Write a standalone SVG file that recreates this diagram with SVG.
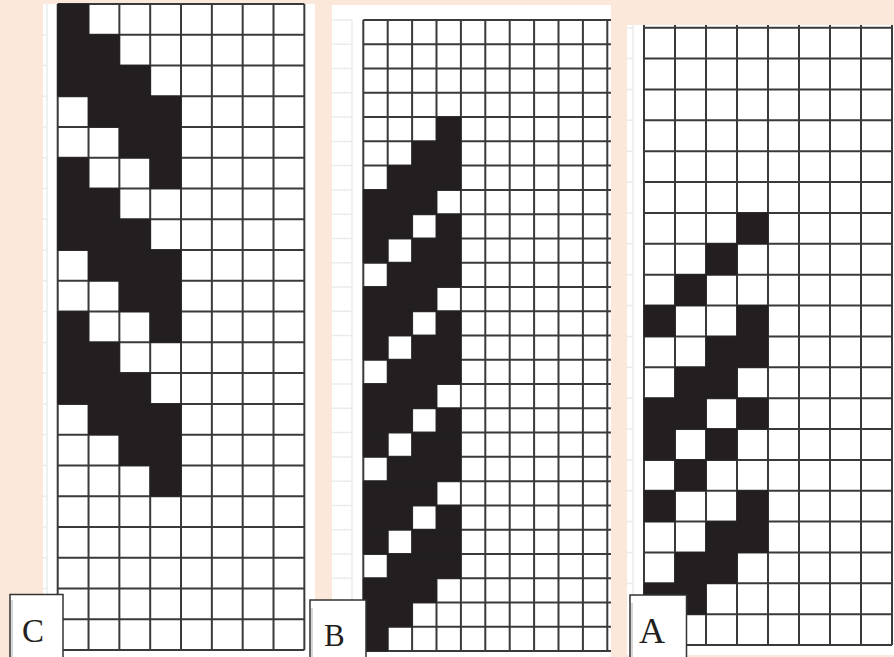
<svg xmlns="http://www.w3.org/2000/svg" width="894" height="657" viewBox="0 0 894 657">
<style>
.panel{fill:#ffffff}
.blk{fill:#231f20;stroke:#231f20;stroke-width:0.8;vector-effect:non-scaling-stroke}
.blk rect{vector-effect:non-scaling-stroke}
.grid{fill:none;stroke:#3a3a3a;stroke-width:2;vector-effect:non-scaling-stroke}
.faint{fill:none;stroke:#e9ebee;stroke-width:1.5}
.lbox{fill:#ffffff;stroke:#333333;stroke-width:1.5}
.shadow{fill:none;stroke:#c8c8c8;stroke-width:1.5}
.lbl{font-family:"Liberation Serif","Times New Roman",serif;fill:#231f20}
</style>
<rect x="0" y="0" width="894" height="657" fill="#fce8da"/>

<g id="panel-c">
<rect class="panel" x="43" y="4" width="272" height="653"/>
<path class="faint" d="M47 4V657M43 35H47M43 65.5H47M43 96.3H47M43 127H47M43 157.8H47M43 188.6H47M43 219.3H47M43 250H47M43 280.8H47M43 311.6H47M43 342.4H47M43 373H47M43 403.9H47M43 434.6H47M43 465.4H47M43 496.2H47M43 527H47M43 557.7H47M43 588.4H47"/>
<g transform="translate(57.7,4) scale(30.83,30.76)">
<path class="grid" d="M0 0V21M1 0V21M2 0V21M3 0V21M4 0V21M5 0V21M6 0V21M7 0V21M8 0V21M0 0H8M0 1H8M0 2H8M0 3H8M0 4H8M0 5H8M0 6H8M0 7H8M0 8H8M0 9H8M0 10H8M0 11H8M0 12H8M0 13H8M0 14H8M0 15H8M0 16H8M0 17H8M0 18H8M0 19H8M0 20H8M0 21H8"/>
<g class="blk">
<rect x="0" y="0" width="1" height="1"/>
<rect x="0" y="1" width="2" height="1"/>
<rect x="0" y="2" width="3" height="1"/>
<rect x="1" y="3" width="3" height="1"/>
<rect x="2" y="4" width="2" height="1"/>
<rect x="0" y="5" width="1" height="1"/><rect x="3" y="5" width="1" height="1"/>
<rect x="0" y="6" width="2" height="1"/>
<rect x="0" y="7" width="3" height="1"/>
<rect x="1" y="8" width="3" height="1"/>
<rect x="2" y="9" width="2" height="1"/>
<rect x="0" y="10" width="1" height="1"/><rect x="3" y="10" width="1" height="1"/>
<rect x="0" y="11" width="2" height="1"/>
<rect x="0" y="12" width="3" height="1"/>
<rect x="1" y="13" width="3" height="1"/>
<rect x="2" y="14" width="2" height="1"/>
<rect x="3" y="15" width="1" height="1"/>
</g>
</g>
</g>

<g id="panel-b">
<rect class="panel" x="332" y="5" width="279" height="652"/>
<path class="faint" d="M352 20V657M332 20H352M332 44.3H352M332 68.5H352M332 92.8H352M332 117H352M332 141.4H352M332 165.6H352M332 190H352M332 214.2H352M332 238.4H352M332 262.7H352M332 287H352M332 311.2H352M332 335.5H352M332 359.8H352M332 384H352M332 408.3H352M332 432.6H352M332 456.9H352M332 481.2H352M332 505.4H352M332 529.7H352M332 554H352M332 578.3H352"/>
<g transform="translate(363.3,20) scale(24.4,24.27)">
<path class="grid" d="M0 0V26M1 0V26M2 0V26M3 0V26M4 0V26M5 0V26M6 0V26M7 0V26M8 0V26M9 0V26M10 0V26M0 0H10.15M0 1H10.15M0 2H10.15M0 3H10.15M0 4H10.15M0 5H10.15M0 6H10.15M0 7H10.15M0 8H10.15M0 9H10.15M0 10H10.15M0 11H10.15M0 12H10.15M0 13H10.15M0 14H10.15M0 15H10.15M0 16H10.15M0 17H10.15M0 18H10.15M0 19H10.15M0 20H10.15M0 21H10.15M0 22H10.15M0 23H10.15M0 24H10.15M0 25H10.15M0 26H10.15"/>
<g class="blk">
<rect x="3" y="4" width="1" height="1"/>
<rect x="2" y="5" width="2" height="1"/>
<rect x="1" y="6" width="3" height="1"/>
<rect x="0" y="7" width="3" height="1"/>
<rect x="0" y="8" width="2" height="1"/><rect x="3" y="8" width="1" height="1"/>
<rect x="0" y="9" width="1" height="1"/><rect x="2" y="9" width="2" height="1"/>
<rect x="1" y="10" width="3" height="1"/>
<rect x="0" y="11" width="3" height="1"/>
<rect x="0" y="12" width="2" height="1"/><rect x="3" y="12" width="1" height="1"/>
<rect x="0" y="13" width="1" height="1"/><rect x="2" y="13" width="2" height="1"/>
<rect x="1" y="14" width="3" height="1"/>
<rect x="0" y="15" width="3" height="1"/>
<rect x="0" y="16" width="2" height="1"/><rect x="3" y="16" width="1" height="1"/>
<rect x="0" y="17" width="1" height="1"/><rect x="2" y="17" width="2" height="1"/>
<rect x="1" y="18" width="3" height="1"/>
<rect x="0" y="19" width="3" height="1"/>
<rect x="0" y="20" width="2" height="1"/><rect x="3" y="20" width="1" height="1"/>
<rect x="0" y="21" width="1" height="1"/><rect x="2" y="21" width="2" height="1"/>
<rect x="1" y="22" width="3" height="1"/>
<rect x="0" y="23" width="3" height="1"/>
<rect x="0" y="24" width="2" height="1"/>
<rect x="0" y="25" width="1" height="1"/>
</g>
</g>
</g>

<g id="panel-a">
<rect class="panel" x="627" y="25" width="267" height="630"/>
<path class="faint" d="M633 25V655M627 28H633M627 58.6H633M627 89.4H633M627 120.3H633M627 151.2H633M627 182H633M627 212.9H633M627 243.8H633M627 274.7H633M627 305.5H633M627 336.4H633M627 367.3H633M627 398.1H633M627 429H633M627 459.9H633M627 490.8H633M627 521.6H633M627 552.5H633M627 583.4H633"/>
<g transform="translate(644,27.7) scale(31,30.87)">
<path class="grid" d="M0 -0.09V20M1 -0.09V20M2 -0.09V20M3 -0.09V20M4 -0.09V20M5 -0.09V20M6 -0.09V20M7 -0.09V20M8 -0.09V20M0 0H8M0 1H8M0 2H8M0 3H8M0 4H8M0 5H8M0 6H8M0 7H8M0 8H8M0 9H8M0 10H8M0 11H8M0 12H8M0 13H8M0 14H8M0 15H8M0 16H8M0 17H8M0 18H8M0 19H8M0 20H8"/>
<g class="blk">
<rect x="3" y="6" width="1" height="1"/>
<rect x="2" y="7" width="1" height="1"/>
<rect x="1" y="8" width="1" height="1"/>
<rect x="0" y="9" width="1" height="1"/><rect x="3" y="9" width="1" height="1"/>
<rect x="2" y="10" width="2" height="1"/>
<rect x="1" y="11" width="2" height="1"/>
<rect x="0" y="12" width="2" height="1"/><rect x="3" y="12" width="1" height="1"/>
<rect x="0" y="13" width="1" height="1"/><rect x="2" y="13" width="1" height="1"/>
<rect x="1" y="14" width="1" height="1"/>
<rect x="0" y="15" width="1" height="1"/><rect x="3" y="15" width="1" height="1"/>
<rect x="2" y="16" width="2" height="1"/>
<rect x="1" y="17" width="2" height="1"/>
<rect x="0" y="18" width="2" height="1"/>
</g>
</g>
</g>

<g id="label-c">
<path class="lbox" d="M10 658V594.5H63V658"/>
<path class="shadow" d="M12 600V657"/>
<text class="lbl" x="22" y="642" font-size="33">C</text>
</g>
<g id="label-b">
<path class="lbox" d="M310 658V600H366V658"/>
<path class="shadow" d="M312 608V657"/>
<text class="lbl" x="324" y="646" font-size="31">B</text>
</g>
<g id="label-a">
<path class="lbox" d="M630 658V595H686.5V658"/>
<path class="shadow" d="M632 603V657"/>
<text class="lbl" x="639" y="642.5" font-size="36">A</text>
</g>
</svg>
